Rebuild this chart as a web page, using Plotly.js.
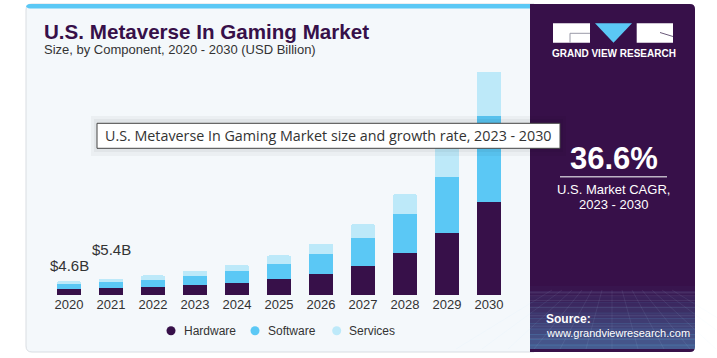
<!DOCTYPE html>
<html>
<head>
<meta charset="utf-8">
<script src="https://cdn.plot.ly/plotly-3.0.1.min.js"></script>
<style>html,body{margin:0;padding:0;background:#fff;}#chart{width:717px;height:358px;}</style>
</head>
<body>
<div id="chart"></div>
<script>
// ---- data ----
var years = ['2020','2021','2022','2023','2024','2025','2026','2027','2028','2029','2030'];
var hardware = [1.9, 2.2, 2.7, 3.4, 4.05, 5.25, 7.0, 9.65, 13.9, 20.3, 30.7];
var software = [1.75, 2.1, 2.3, 2.85, 3.85, 5.05, 6.5, 9.0, 12.7, 18.6, 28.2];
var services = [0.95, 1.1, 1.45, 1.75, 2.0, 2.75, 3.4, 4.7, 6.6, 10.5, 14.6];
var seriesNames = ['Hardware', 'Software', 'Services'];
var valueLabels = ['$4.6B', '$5.4B'];
var cagrValue = '36.6%';

// ---- layout helpers (pixel -> paper) ----
var W = 717, H = 358, ML = 48, MR = 207, MT = 52, MB = 63;
var PW = W - ML - MR, PH = H - MT - MB;
function fx(px){ return (px - ML) / PW; }
function fy(py){ return (H - MB - py) / PH; }
function rrect(x0, y0, x1, y1, rl, rr){
  function P(x, y){ return fx(x) + ',' + fy(y); }
  return 'M' + P(x0 + rl, y0) + ' L' + P(x1 - rr, y0) + ' Q' + P(x1, y0) + ' ' + P(x1, y0 + rr) +
         ' L' + P(x1, y1 - rr) + ' Q' + P(x1, y1) + ' ' + P(x1 - rr, y1) +
         ' L' + P(x0 + rl, y1) + ' Q' + P(x0, y1) + ' ' + P(x0, y1 - rl) +
         ' L' + P(x0, y0 + rl) + ' Q' + P(x0, y0) + ' ' + P(x0 + rl, y0) + ' Z';
}
function rect(x0, y0, x1, y1, fill, line, lw){
  return {type:'rect', xref:'paper', yref:'paper', x0:fx(x0), x1:fx(x1), y0:fy(y1), y1:fy(y0),
          fillcolor:fill, line:{color:line || 'rgba(0,0,0,0)', width:lw || 0}, layer:'below'};
}
function line(x0, y0, x1, y1, color, w, layer){
  return {type:'line', xref:'paper', yref:'paper', x0:fx(x0), x1:fx(x1), y0:fy(y0), y1:fy(y1),
          line:{color:color, width:w}, layer:layer || 'below'};
}
function txt(x, y, text, size, color, opts){
  var a = {xref:'paper', yref:'paper', x:fx(x), y:fy(y), text:text, showarrow:false,
           font:{family:'Liberation Sans, Arial, sans-serif', size:size, color:color},
           xanchor:'center', yanchor:'middle'};
  if (opts) for (var k in opts) { if (k === 'font') Object.assign(a.font, opts.font); else a[k] = opts[k]; }
  return a;
}

var colors = ['#371049', '#5bc8f5', '#bde9f9'];
var seriesVals = [hardware, software, services];

var traces = seriesVals.map(function(vals, i){
  return {type:'bar', x:years, y:vals, name:seriesNames[i], marker:{color:colors[i]},
          showlegend:false, hoverinfo:'skip'};
});

var totals = years.map(function(_, i){ return hardware[i] + software[i] + services[i]; });

var shapes = [];
shapes.push({type:'path', xref:'paper', yref:'paper', path:rrect(26, 4, 534, 352, 6, 0),
             fillcolor:'#f4f8fb', line:{color:'#d9dde2', width:1}, layer:'below'});
shapes.push({type:'path', xref:'paper', yref:'paper', path:rrect(26, 4, 534, 8.5, 4, 0),
             fillcolor:'#5bc8f5', line:{width:0}, layer:'below'});
shapes.push({type:'path', xref:'paper', yref:'paper', path:rrect(530, 4, 695, 352, 0, 5),
             fillcolor:'#371049', line:{width:0}, layer:'below'});
var nStrips = 12;
for (var s = 0; s < nStrips; s++) {
  var y0 = 286 + s * (64 / nStrips), y1 = y0 + 64 / nStrips + 0.5;
  shapes.push(rect(530, y0, 695, Math.min(y1, 349), 'rgba(91,200,245,' + (0.03 + s * 0.035).toFixed(3) + ')'));
}
for (var g = 0; g < 8; g++) {
  var gy = 292 + g * g * 0.95;
  shapes.push(line(530, gy, 695, gy, 'rgba(200,230,255,0.14)', 0.7));
}
for (var v = -6; v <= 6; v++) {
  shapes.push(line(612 + v * 10, 290, 612 + v * 26, 349, 'rgba(200,230,255,0.12)', 0.7));
}
// logo
shapes.push(rect(553, 23.3, 590, 42.7, '#ffffff'));
shapes.push({type:'path', xref:'paper', yref:'paper', layer:'below', line:{width:0}, fillcolor:'#5bc8f5',
             path:'M' + fx(595) + ',' + fy(23.3) + ' L' + fx(632) + ',' + fy(23.3) + ' L' + fx(613.5) + ',' + fy(42.7) + ' Z'});
shapes.push(rect(636.7, 23.3, 673, 42.7, '#ffffff'));
shapes.push(line(570, 33.3, 590, 33.3, '#9a9aa8', 1, 'below'));
shapes.push(line(570, 33.3, 570, 42.7, '#9a9aa8', 1, 'below'));
shapes.push(line(660, 32.5, 673, 36.5, '#6a5a7a', 1, 'below'));
// CAGR divider
shapes.push(line(560, 176.7, 667, 176.7, '#bdb3c4', 1.5, 'above'));
// tooltip box with shadow
shapes.push({type:'rect', xref:'paper', yref:'paper', x0:fx(91), x1:fx(566), y0:fy(156), y1:fy(116),
             fillcolor:'rgba(0,0,0,0.035)', line:{width:0}, layer:'above'});
shapes.push({type:'rect', xref:'paper', yref:'paper', x0:fx(94), x1:fx(563), y0:fy(152), y1:fy(119),
             fillcolor:'rgba(0,0,0,0.04)', line:{width:0}, layer:'above'});
shapes.push({type:'rect', xref:'paper', yref:'paper', x0:fx(97), x1:fx(560), y0:fy(148.3), y1:fy(123.3),
             fillcolor:'#ffffff', line:{color:'#444444', width:1}, layer:'above'});
// legend circles
var legX = [171, 255, 336.7], legTextX = [181.7, 265.7, 346.7], legY = 330.7, r = 4.5;
legX.forEach(function(cx, i){
  shapes.push({type:'circle', xref:'paper', yref:'paper', x0:fx(cx - r), x1:fx(cx + r), y0:fy(legY + r), y1:fy(legY - r),
               fillcolor:colors[i], line:{width:0}, layer:'above'});
});

var annotations = [];
annotations.push(txt(42, 31, '<b>U.S. Metaverse In Gaming Market</b>', 20.6, '#371049', {xanchor:'left'}));
annotations.push(txt(42, 49.5, 'Size, by Component, 2020 - 2030 (USD Billion)', 13, '#333333', {xanchor:'left'}));
// value labels (on category index positions)
var labelShift = [16, 29];
valueLabels.forEach(function(t, i){
  annotations.push({x:i, y:totals[i], xref:'x', yref:'y', text:t, showarrow:false, xanchor:'center', yanchor:'middle',
                    yshift:labelShift[i], font:{family:'Liberation Sans, Arial, sans-serif', size:15, color:'#333333'}});
});
annotations.push(txt(328.5, 135.8, 'U.S. Metaverse In Gaming Market size and growth rate, 2023 - 2030', 14.3, '#333333',
                     {font:{family:'Open Sans, DejaVu Sans, sans-serif'}}));
// panel texts
annotations.push(txt(613.5, 53.5, '<b>GRAND VIEW RESEARCH</b>', 10, '#ffffff'));
annotations.push(txt(613.5, 158, '<b>' + cagrValue + '</b>', 31, '#ffffff'));
annotations.push(txt(613.5, 189.5, 'U.S. Market CAGR,', 13, '#ffffff', {borderpad:0}));
annotations.push(txt(613.5, 204, '2023 - 2030', 13, '#ffffff', {borderpad:0}));
annotations.push(txt(544, 319, '<b>Source:</b>', 12, '#ffffff', {xanchor:'left'}));
annotations.push(txt(544, 332.5, 'www.grandviewresearch.com', 11, '#ffffff', {xanchor:'left'}));
seriesNames.forEach(function(n, i){
  annotations.push(txt(legTextX[i], legY, n, 12, '#333333', {xanchor:'left'}));
});

var layout = {
  width:W, height:H,
  margin:{l:ML, r:MR, t:MT, b:MB, pad:0},
  paper_bgcolor:'#ffffff', plot_bgcolor:'rgba(0,0,0,0)',
  barmode:'stack', bargap:0.43, barcornerradius:2,
  showlegend:false,
  xaxis:{type:'category', range:[-0.5, 10.5], showgrid:false, zeroline:false, showline:false, ticks:'',
         tickfont:{family:'Liberation Sans, Arial, sans-serif', size:13, color:'#333333'}, fixedrange:true},
  yaxis:{range:[0, 80], visible:false, fixedrange:true},
  shapes:shapes, annotations:annotations,
  font:{family:'Liberation Sans, Arial, sans-serif'}
};

Plotly.newPlot('chart', traces, layout, {displayModeBar:false, staticPlot:true});
</script>
</body>
</html>
